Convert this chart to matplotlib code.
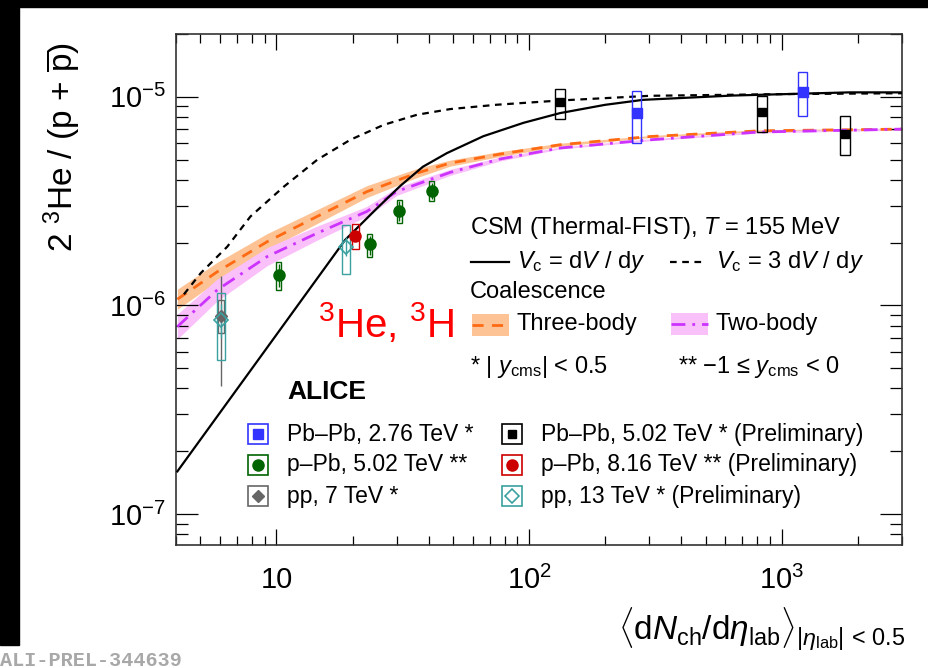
import matplotlib.pyplot as plt
import matplotlib.ticker as mticker
from matplotlib.patches import Rectangle
from matplotlib.lines import Line2D

plt.rcParams['font.family'] = ['Liberation Sans', 'DejaVu Sans']
plt.rcParams['mathtext.fontset'] = 'custom'
plt.rcParams['mathtext.rm'] = 'Liberation Sans'
plt.rcParams['mathtext.it'] = 'Liberation Sans:italic'
plt.rcParams['mathtext.bf'] = 'Liberation Sans:bold'

# --- data ---
# Pb-Pb 2.76 TeV
pbpb276_x = [267, 1211]
pbpb276_y = [8.35e-6, 1.06e-5]
pbpb276_sys_lo = [6.0e-6, 8.05e-6]
pbpb276_sys_hi = [1.07e-5, 1.32e-5]

# Pb-Pb 5.02 TeV (prelim)
pbpb502_x = [133, 836, 1786]
pbpb502_y = [9.39e-6, 8.5e-6, 6.65e-6]
pbpb502_sys_lo = [7.82e-6, 6.77e-6, 5.27e-6]
pbpb502_sys_hi = [1.09e-5, 1.01e-5, 8.05e-6]

# p-Pb 5.02 TeV
ppb502_x = [10.2, 23.4, 30.7, 41.2]
ppb502_y = [1.40e-6, 1.965e-6, 2.85e-6, 3.54e-6]
ppb502_sys_lo = [1.19e-6, 1.71e-6, 2.48e-6, 3.15e-6]
ppb502_sys_hi = [1.62e-6, 2.195e-6, 3.21e-6, 3.93e-6]
ppb502_stat_lo = [1.23e-6, 1.75e-6, 2.55e-6, 3.22e-6]
ppb502_stat_hi = [1.58e-6, 2.15e-6, 3.15e-6, 3.86e-6]

# p-Pb 8.16 TeV (prelim)
ppb816_x = [20.5]
ppb816_y = [2.16e-6]
ppb816_sys_lo = [1.86e-6]
ppb816_sys_hi = [2.45e-6]

# pp 7 TeV
pp7_x = [6.04]
pp7_y = [8.9e-7]
pp7_stat_lo = [4.11e-7]
pp7_stat_hi = [1.38e-6]
pp7_sys_lo = [7.38e-7]
pp7_sys_hi = [1.06e-6]

# pp 13 TeV (prelim)
pp13_x = [6.04, 18.8]
pp13_y = [8.5e-7, 1.91e-6]
pp13_sys_lo = [5.48e-7, 1.42e-6]
pp13_sys_hi = [1.15e-6, 2.42e-6]
pp13_stat_lo = [7.0e-7, 1.72e-6]
pp13_stat_hi = [1.02e-6, 2.12e-6]

# CSM, Vc = dV/dy
csm1_x = [4.05, 8.65, 18.7, 25.0, 31.0, 38.0, 47.3, 65.9, 95.0, 132.6, 200, 283, 642, 1857, 3006]
csm1_y = [1.60e-7, 5.68e-7, 2.06e-6, 2.92e-6, 3.75e-6, 4.62e-6, 5.37e-6, 6.47e-6, 7.50e-6,
          8.35e-6, 9.15e-6, 9.67e-6, 1.014e-5, 1.05e-5, 1.05e-5]
# CSM, Vc = 3 dV/dy
csm3_x = [4.3, 5.01, 6.38, 7.89, 10.7, 14.5, 19.6, 26.6, 36.0, 48.7, 74.5, 132.6, 301, 1009, 3006]
csm3_y = [1.13e-6, 1.427e-6, 1.91e-6, 2.67e-6, 3.71e-6, 4.99e-6, 6.22e-6, 7.34e-6,
          8.20e-6, 8.73e-6, 9.16e-6, 9.60e-6, 1.011e-5, 1.03e-5, 1.04e-5]

# Coalescence three-body
coal3_x = [4.05, 5.83, 9.19, 14.5, 22.8, 36.0, 48.7, 76.7, 132.6, 301, 818, 3006]
coal3_y = [1.07e-6, 1.45e-6, 2.02e-6, 2.67e-6, 3.51e-6, 4.31e-6, 4.81e-6, 5.31e-6,
           5.89e-6, 6.45e-6, 6.87e-6, 7.00e-6]
coal3_hi = [1.195e-6, 1.61e-6, 2.21e-6, 2.88e-6, 3.75e-6, 4.53e-6, 4.97e-6, 5.46e-6,
            5.99e-6, 6.52e-6, 6.95e-6, 7.08e-6]
coal3_lo = [0.958e-6, 1.306e-6, 1.85e-6, 2.47e-6, 3.29e-6, 4.10e-6, 4.65e-6, 5.17e-6,
            5.79e-6, 6.38e-6, 6.80e-6, 6.92e-6]

# Coalescence two-body
coal2_x = [4.05, 5.83, 9.19, 14.5, 22.8, 30.0, 48.7, 76.7, 132.6, 301, 818, 3006]
coal2_y = [7.91e-7, 1.187e-6, 1.714e-6, 2.22e-6, 2.82e-6, 3.52e-6, 4.34e-6, 5.03e-6,
           5.68e-6, 6.22e-6, 6.78e-6, 7.00e-6]
coal2_hi = [9.08e-7, 1.34e-6, 1.894e-6, 2.40e-6, 2.98e-6, 3.68e-6, 4.49e-6, 5.14e-6,
            5.74e-6, 6.29e-6, 6.85e-6, 7.08e-6]
coal2_lo = [6.89e-7, 1.051e-6, 1.551e-6, 2.056e-6, 2.668e-6, 3.37e-6, 4.20e-6, 4.92e-6,
            5.62e-6, 6.15e-6, 6.71e-6, 6.92e-6]

# colours
c_blue = '#3333ff'
c_green = '#006400'
c_red = '#cc0000'
c_gray = '#666666'
c_teal = '#3aa0a0'
c_orange = '#ff6a13'
c_orange_band = '#fdc394'
c_mag = '#cc33ff'
c_mag_band = '#f9c0f9'

W, H = 929, 668
fig = plt.figure(figsize=(W / 100, H / 100), dpi=100)
fig.patch.set_facecolor('white')


def fx(px):
    return px / W


def fy(py):
    return 1 - py / H


# black border strips of the screenshot
fig.patches.append(Rectangle((0, fy(7)), 1, 7 / H, transform=fig.transFigure,
                             color='black', zorder=0))
fig.patches.append(Rectangle((0, fy(645)), 19 / W, 645 / H, transform=fig.transFigure,
                             color='black', zorder=0))

ax = fig.add_axes([fx(176), fy(545), (902 - 176) / W, (545 - 34) / H])
ax.set_xscale('log')
ax.set_yscale('log')
ax.set_xlim(4, 3000)
ax.set_ylim(7.1e-8, 2.0e-5)

# model curves
ax.fill_between(coal3_x, coal3_lo, coal3_hi, color=c_orange_band, lw=0, zorder=1)
ax.fill_between(coal2_x, coal2_lo, coal2_hi, color=c_mag_band, lw=0, zorder=1)
ax.plot(coal3_x, coal3_y, color=c_orange, lw=2.0, ls=(0, (4, 3)), zorder=2)
ax.plot(coal2_x, coal2_y, color=c_mag, lw=2.0, ls=(0, (5, 2.5, 1, 2.5)), zorder=2)
ax.plot(csm1_x, csm1_y, color='black', lw=1.6, zorder=3)
ax.plot(csm3_x, csm3_y, color='black', lw=1.6, ls=(0, (3, 2.5)), zorder=3)


def sysboxes(xs, lo, hi, half, color):
    f = 10 ** half
    for x, l, h in zip(xs, lo, hi):
        ax.add_patch(Rectangle((x / f, l), x * f - x / f, h - l, fill=False,
                               ec=color, lw=1.0, zorder=4))


# data
ax.vlines(pp7_x, pp7_stat_lo, pp7_stat_hi, color=c_gray, lw=1.0, zorder=4)
sysboxes(pp7_x, pp7_sys_lo, pp7_sys_hi, 0.012, c_gray)
ax.plot(pp7_x, pp7_y, 'D', color=c_gray, ms=6, zorder=5)

ax.vlines(pp13_x, pp13_stat_lo, pp13_stat_hi, color=c_teal, lw=1.0, zorder=4)
sysboxes(pp13_x, pp13_sys_lo, pp13_sys_hi, 0.015, c_teal)
ax.plot(pp13_x, pp13_y, 'D', mfc='none', mec=c_teal, mew=1.2, ms=7, zorder=5)

ax.vlines(ppb502_x, ppb502_stat_lo, ppb502_stat_hi, color=c_green, lw=1.0, zorder=4)
sysboxes(ppb502_x, ppb502_sys_lo, ppb502_sys_hi, 0.010, c_green)
ax.plot(ppb502_x, ppb502_y, 'o', color=c_green, ms=8, zorder=5)

sysboxes(ppb816_x, ppb816_sys_lo, ppb816_sys_hi, 0.014, c_red)
ax.plot(ppb816_x, ppb816_y, 'o', color=c_red, ms=8, zorder=5)

sysboxes(pbpb276_x, pbpb276_sys_lo, pbpb276_sys_hi, 0.018, c_blue)
ax.plot(pbpb276_x, pbpb276_y, 's', color=c_blue, ms=7, zorder=5)

sysboxes(pbpb502_x, pbpb502_sys_lo, pbpb502_sys_hi, 0.020, 'black')
ax.plot(pbpb502_x, pbpb502_y, 's', color='black', ms=6, zorder=5)

# axes styling
for s in ax.spines.values():
    s.set_linewidth(1.2)
    s.set_color('#333333')
ax.set_xticks([10, 100, 1000])
ax.set_xticklabels(['10', '$10^{2}$', '$10^{3}$'])
ax.xaxis.set_minor_locator(mticker.LogLocator(base=10, subs=range(2, 10), numticks=20))
ax.xaxis.set_minor_formatter(mticker.NullFormatter())
ax.yaxis.set_minor_locator(mticker.LogLocator(base=10, subs=range(2, 10), numticks=20))
ax.yaxis.set_minor_formatter(mticker.NullFormatter())
ax.tick_params(axis='x', which='major', direction='in', top=True, length=11.5, width=0.9,
               labelsize=21, pad=15)
ax.tick_params(axis='x', which='minor', direction='in', top=True, length=6.5, width=0.9)
ax.tick_params(axis='y', which='major', direction='in', right=True, length=16, width=0.9,
               labelsize=21, pad=7)
ax.tick_params(axis='y', which='minor', direction='in', right=True, length=8.5, width=0.9)

# axis titles
fig.text(fx(62), fy(147), r'2 $^{3}$He / (p + $\overline{\rm p}$)', rotation=90,
         ha='center', va='center', fontsize=24)
fig.text(fx(905), fy(641),
         r'$\langle {\rm d}N_{\rm ch}/{\rm d}\eta_{\rm lab}\rangle_{|\eta_{\rm lab}|\,<\,0.5}$',
         ha='right', va='baseline', fontsize=24)

# model legend
fs = 17
fig.text(fx(470), fy(228), r'CSM (Thermal-FIST), $T$ = 155 MeV', ha='left', va='center',
         fontsize=fs)
fig.lines.append(Line2D([fx(471), fx(509)], [fy(262), fy(262)], transform=fig.transFigure,
                        color='black', lw=1.6))
fig.text(fx(517), fy(262), r'$V_{\rm c}$ = d$V$ / d$y$', ha='left', va='center', fontsize=fs)
fig.lines.append(Line2D([fx(670), fx(704)], [fy(262), fy(262)], transform=fig.transFigure,
                        color='black', lw=1.6, ls=(0, (3, 2.5))))
fig.text(fx(716), fy(262), r'$V_{\rm c}$ = 3 d$V$ / d$y$', ha='left', va='center', fontsize=fs)
fig.text(fx(470), fy(292), 'Coalescence', ha='left', va='center', fontsize=fs)
fig.patches.append(Rectangle((fx(472), fy(336)), 37 / W, 22 / H, transform=fig.transFigure,
                             color=c_orange_band, lw=0))
fig.lines.append(Line2D([fx(472), fx(509)], [fy(325), fy(325)], transform=fig.transFigure,
                        color=c_orange, lw=2.0, ls=(0, (4, 3))))
fig.text(fx(517), fy(324), 'Three-body', ha='left', va='center', fontsize=fs)
fig.patches.append(Rectangle((fx(671), fy(335)), 37 / W, 22 / H, transform=fig.transFigure,
                             color=c_mag_band, lw=0))
fig.lines.append(Line2D([fx(671), fx(708)], [fy(324), fy(324)], transform=fig.transFigure,
                        color=c_mag, lw=2.0, ls=(0, (5, 2.5, 1, 2.5))))
fig.text(fx(716), fy(324), 'Two-body', ha='left', va='center', fontsize=fs)
fig.text(fx(470), fy(367), r'* | $y_{\rm cms}$| < 0.5', ha='left', va='center', fontsize=fs)
fig.text(fx(678), fy(367), '** \u22121 \u2264 $y_{\\rm cms}$ < 0', ha='left', va='center',
         fontsize=fs)

# red label
fig.text(fx(318), fy(337), r'$^{3}$He, $^{3}$H', color='red', ha='left', va='baseline',
         fontsize=29)

# ALICE and data legend
fig.text(fx(287), fy(392), 'ALICE', ha='left', va='center', fontsize=19, fontweight='bold')

leg_rows = [434, 465, 496]
leg_entries = [
    (248, 'Pb\u2013Pb, 2.76 TeV *', dict(marker='s', color=c_blue, ms=7), c_blue),
    (248, 'p\u2013Pb, 5.02 TeV **', dict(marker='o', color=c_green, ms=8), c_green),
    (248, 'pp, 7 TeV *', dict(marker='D', color=c_gray, ms=6), c_gray),
    (502, 'Pb\u2013Pb, 5.02 TeV * (Preliminary)', dict(marker='s', color='black', ms=6), 'black'),
    (502, 'p\u2013Pb, 8.16 TeV ** (Preliminary)', dict(marker='o', color=c_red, ms=8), c_red),
    (502, 'pp, 13 TeV * (Preliminary)',
     dict(marker='D', mfc='none', mec=c_teal, mew=1.2, ms=7), c_teal),
]
for i, (x0, label, mk, ec) in enumerate(leg_entries):
    yc = leg_rows[i % 3]
    fig.patches.append(Rectangle((fx(x0), fy(yc + 10)), 20 / W, 20 / H,
                                 transform=fig.transFigure, fill=False, ec=ec, lw=1.2))
    fig.lines.append(Line2D([fx(x0 + 10)], [fy(yc)], transform=fig.transFigure, ls='none', **mk))
    fig.text(fx(x0 + 39), fy(yc), label, ha='left', va='center', fontsize=16.5)

fig.text(fx(0), fy(660), 'ALI-PREL-344639', ha='left', va='center', fontsize=14.5,
         family='Liberation Mono', fontweight='bold', color='#a8a8a8')

fig.savefig('out.png', dpi=100, facecolor='white')
